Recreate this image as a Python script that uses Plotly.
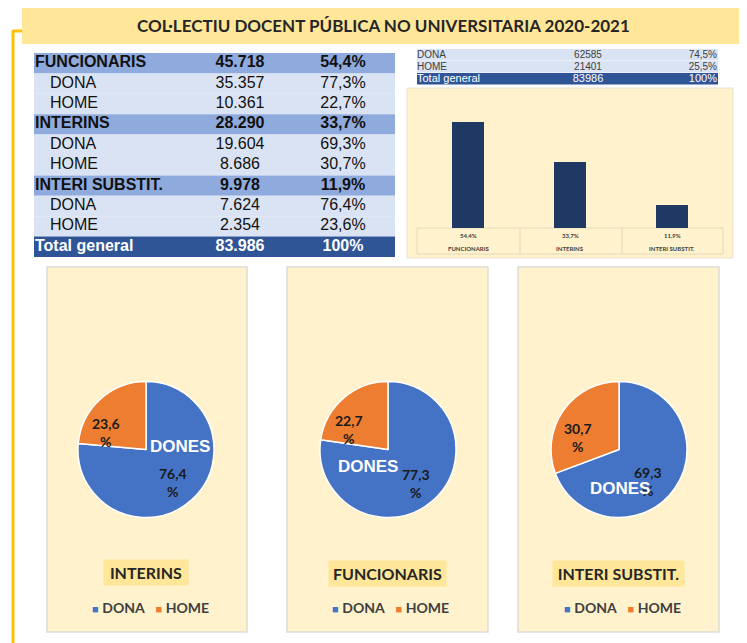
import plotly.graph_objects as go

# page body has an 8px margin: the figure is shrunk/offset so pixel coordinates match the window
OFF = 8
W, H = 747 - OFF, 643 - OFF


def X(px):
    return (px - OFF) / W


def Y(py):
    return 1 - (py - OFF) / H


title_text = "COL·LECTIU DOCENT PÚBLICA NO UNIVERSITARIA 2020-2021"

# ---- main table data ----
table_labels = ["FUNCIONARIS", "DONA", "HOME", "INTERINS", "DONA", "HOME",
                "INTERI SUBSTIT.", "DONA", "HOME", "Total general"]
table_counts = ["45.718", "35.357", "10.361", "28.290", "19.604", "8.686",
                "9.978", "7.624", "2.354", "83.986"]
table_pcts = ["54,4%", "77,3%", "22,7%", "33,7%", "69,3%", "30,7%",
              "11,9%", "76,4%", "23,6%", "100%"]
table_kinds = ["cat", "sub", "sub", "cat", "sub", "sub", "cat", "sub", "sub", "total"]

# ---- summary table data ----
sum_labels = ["DONA", "HOME", "Total general"]
sum_counts = ["62585", "21401", "83986"]
sum_pcts = ["74,5%", "25,5%", "100%"]

# ---- bar chart data ----
bar_cats = ["FUNCIONARIS", "INTERINS", "INTERI SUBSTIT."]
bar_vals = [54.4, 33.7, 11.9]

# ---- pie data (as shown in the panels) ----
pie_titles = ["INTERINS", "FUNCIONARIS", "INTERI SUBSTIT."]
pie_labels = ["DONA", "HOME"]
pie_dona = [76.4, 77.3, 69.3]
pie_home = [23.6, 22.7, 30.7]

BLUE = "#4472C4"
ORANGE = "#ED7D31"
CAT_FILL = "#8FAADC"
SUB_FILL = "#DAE3F3"
TOT_FILL = "#2F5597"
PANEL = "#FFF2CC"
TITLE_BG = "#FFE699"
CAL = "Lato, 'Open Sans', sans-serif"
ARIAL = "'Liberation Sans', Arial, sans-serif"

fig = go.Figure()

# ---------- main table (text on hidden axes x2/y2, rows = integer positions) ----------
fill_map = {"cat": CAT_FILL, "sub": SUB_FILL, "total": TOT_FILL}
rows = list(range(len(table_labels)))
tcol = ["#FFFFFF" if k == "total" else "#111111" for k in table_kinds]


def b(t, k):
    return "<b>" + t + "</b>" if k in ("cat", "total") else t


fig.add_trace(go.Scatter(
    x=[1 if k != "sub" else 16 for k in table_kinds], y=rows,
    text=[b(t, k) for t, k in zip(table_labels, table_kinds)],
    mode="text", textposition="middle right",
    textfont=dict(family=ARIAL, size=16, color=tcol),
    xaxis="x2", yaxis="y2", showlegend=False, hoverinfo="skip", cliponaxis=False,
))
fig.add_trace(go.Scatter(
    x=[206] * len(rows), y=rows,
    text=[b(t, k) for t, k in zip(table_counts, table_kinds)],
    mode="text", textposition="middle center",
    textfont=dict(family=ARIAL, size=16, color=tcol),
    xaxis="x2", yaxis="y2", showlegend=False, hoverinfo="skip", cliponaxis=False,
))
fig.add_trace(go.Scatter(
    x=[309] * len(rows), y=rows,
    text=[b(t, k) for t, k in zip(table_pcts, table_kinds)],
    mode="text", textposition="middle center",
    textfont=dict(family=ARIAL, size=16, color=tcol),
    xaxis="x2", yaxis="y2", showlegend=False, hoverinfo="skip", cliponaxis=False,
))

# ---------- summary table (x3/y3) ----------
s_rows = list(range(len(sum_labels)))
s_col = ["#404040", "#404040", "#FFFFFF"]
s_size = [10, 10, 11]
s_fill = [SUB_FILL, SUB_FILL, TOT_FILL]
fig.add_trace(go.Scatter(
    x=[0] * 3, y=s_rows, text=sum_labels, mode="text", textposition="middle right",
    textfont=dict(family=ARIAL, size=s_size, color=s_col),
    xaxis="x3", yaxis="y3", showlegend=False, hoverinfo="skip", cliponaxis=False,
))
fig.add_trace(go.Scatter(
    x=[171] * 3, y=s_rows, text=sum_counts, mode="text", textposition="middle center",
    textfont=dict(family=ARIAL, size=s_size, color=s_col),
    xaxis="x3", yaxis="y3", showlegend=False, hoverinfo="skip", cliponaxis=False,
))
fig.add_trace(go.Scatter(
    x=[300] * 3, y=s_rows, text=sum_pcts, mode="text", textposition="middle left",
    textfont=dict(family=ARIAL, size=s_size, color=s_col),
    xaxis="x3", yaxis="y3", showlegend=False, hoverinfo="skip", cliponaxis=False,
))

# ---------- bar chart ----------
fig.add_trace(go.Bar(
    x=bar_cats, y=bar_vals, width=0.31,
    marker=dict(color="#1F3864", line=dict(width=0)),
    xaxis="x", yaxis="y", showlegend=False, hoverinfo="x+y",
))

# ---------- pies ----------
pie_centers = [(146, 449.5), (388, 449.5), (619, 449.5)]
R = 68
for i, (cx, cy) in enumerate(pie_centers):
    fig.add_trace(go.Pie(
        labels=pie_labels, values=[pie_dona[i], pie_home[i]],
        sort=False, direction="clockwise", rotation=0,
        marker=dict(colors=[BLUE, ORANGE], line=dict(color="white", width=1.5)),
        textinfo="none", showlegend=False,
        domain=dict(x=[X(cx - R), X(cx + R)], y=[Y(cy + R), Y(cy - R)]),
    ))

shapes = []
# orange frame line
shapes.append(dict(type="line", xref="paper", yref="paper", x0=X(13), x1=X(750), y0=Y(31), y1=Y(31),
                   line=dict(color="#FFC000", width=3), layer="below"))
shapes.append(dict(type="line", xref="paper", yref="paper", x0=X(13), x1=X(13), y0=Y(30), y1=Y(650),
                   line=dict(color="#FFC000", width=3), layer="below"))
# title bar
shapes.append(dict(type="rect", xref="paper", yref="paper", x0=X(22), x1=X(746), y0=Y(44), y1=Y(8),
                   fillcolor=TITLE_BG, line=dict(width=0), layer="below"))
# main table row fills
for i, k in enumerate(table_kinds):
    shapes.append(dict(type="rect", xref="x2 domain", yref="y2", x0=0, x1=1, y0=i - 0.5, y1=i + 0.5,
                       fillcolor=fill_map[k], line=dict(width=0), layer="below"))
# summary table row fills
for i, c in enumerate(s_fill):
    shapes.append(dict(type="rect", xref="x3 domain", yref="y3", x0=0, x1=1, y0=i - 0.5, y1=i + 0.45,
                       fillcolor=c, line=dict(width=0), layer="below"))
# bar panel
shapes.append(dict(type="rect", xref="paper", yref="paper", x0=X(407), x1=X(733), y0=Y(258), y1=Y(88),
                   fillcolor=PANEL, line=dict(color="#E6E1D2", width=1), layer="below"))
# pie panels
for (x0, x1) in [(47, 247), (287, 488), (518, 719)]:
    shapes.append(dict(type="rect", xref="paper", yref="paper", x0=X(x0), x1=X(x1), y0=Y(632), y1=Y(267),
                       fillcolor=PANEL, line=dict(color="#DEDBD3", width=1.5), layer="below"))
# data table grid below bars
gcol = "#E2D8B8"
shapes.append(dict(type="rect", xref="paper", yref="paper", x0=X(417), x1=X(723), y0=Y(254), y1=Y(228),
                   line=dict(color=gcol, width=1), fillcolor="rgba(0,0,0,0)", layer="below"))
for gx in (520, 622):
    shapes.append(dict(type="line", xref="paper", yref="paper", x0=X(gx), x1=X(gx), y0=Y(254), y1=Y(228),
                       line=dict(color=gcol, width=1), layer="below"))

ann = []


def A(text, px, py, font, **kw):
    d = dict(text=text, x=X(px), y=Y(py), xref="paper", yref="paper", showarrow=False,
             xanchor="center", yanchor="middle", font=font)
    d.update(kw)
    ann.append(d)


A("<b>" + title_text + "</b>", 383, 25, dict(family=CAL, size=17, color="#262626"))

# labels under bars
for c, v in zip(bar_cats, bar_vals):
    ann.append(dict(text="<b>" + f"{v:.1f}".replace(".", ",") + "%</b>", x=c, xref="x",
                    y=Y(235), yref="paper", showarrow=False, xanchor="center", yanchor="middle",
                    font=dict(family=CAL, size=6, color="#404040")))
    ann.append(dict(text="<b>" + c + "</b>", x=c, xref="x",
                    y=Y(248), yref="paper", showarrow=False, xanchor="center", yanchor="middle",
                    font=dict(family=CAL, size=6, color="#404040")))

# pie labels
home_pos = [(106, 432), (349, 429), (578, 437)]
dona_pos = [(173, 482), (416, 483), (648, 481)]
dones_pos = [(180, 447), (368, 466), (620, 488)]
title_pos = [(146, 572, 82), (388, 573, 115), (618, 573, 129)]
legend_x = [150, 390, 622]
for i in range(3):
    hx, hy = home_pos[i]
    dx, dy = dona_pos[i]
    A("<b>" + f"{pie_home[i]:.1f}".replace(".", ",") + "<br>%</b>", hx, hy,
      dict(family=CAL, size=14, color="#1a1a1a"), align="center")
    A("<b>" + f"{pie_dona[i]:.1f}".replace(".", ",") + "<br>%</b>", dx, dy,
      dict(family=CAL, size=14, color="#1a1a1a"), align="center")
    ox, oy = dones_pos[i]
    A("<b>DONES</b>", ox, oy, dict(family=ARIAL, size=17, color="white"))
    tx, ty, tw = title_pos[i]
    A("<b>" + pie_titles[i] + "</b>", tx, ty, dict(family=CAL, size=16, color="#262626"),
      width=tw, height=23, bgcolor=TITLE_BG)
    A(f"<span style='color:{BLUE}; font-size:11px'>■</span> <b>{pie_labels[0]}</b>"
      f"\u00a0\u00a0\u00a0<span style='color:{ORANGE}; font-size:11px'>■</span> <b>{pie_labels[1]}</b>",
      legend_x[i], 607, dict(family=CAL, size=14, color="#404040"))

fig.update_layout(
    width=W, height=H,
    margin=dict(l=0, r=0, t=0, b=0),
    paper_bgcolor="white", plot_bgcolor="rgba(0,0,0,0)",
    showlegend=False,
    xaxis=dict(domain=[X(417), X(723)], range=[-0.5, 2.5], showticklabels=False,
               showgrid=False, zeroline=False, showline=False, fixedrange=True),
    yaxis=dict(domain=[Y(228), Y(111)], range=[0, 60], visible=False, fixedrange=True),
    xaxis2=dict(domain=[X(34), X(395)], range=[0, 361], visible=False, fixedrange=True),
    yaxis2=dict(domain=[Y(257), Y(53)], range=[9.5, -0.5], visible=False, fixedrange=True),
    xaxis3=dict(domain=[X(417), X(718)], range=[0, 301], visible=False, fixedrange=True),
    yaxis3=dict(domain=[Y(85), Y(49)], range=[2.5, -0.5], visible=False, fixedrange=True),
    shapes=shapes, annotations=ann,
    bargap=0,
)

fig.write_html("out.html")
